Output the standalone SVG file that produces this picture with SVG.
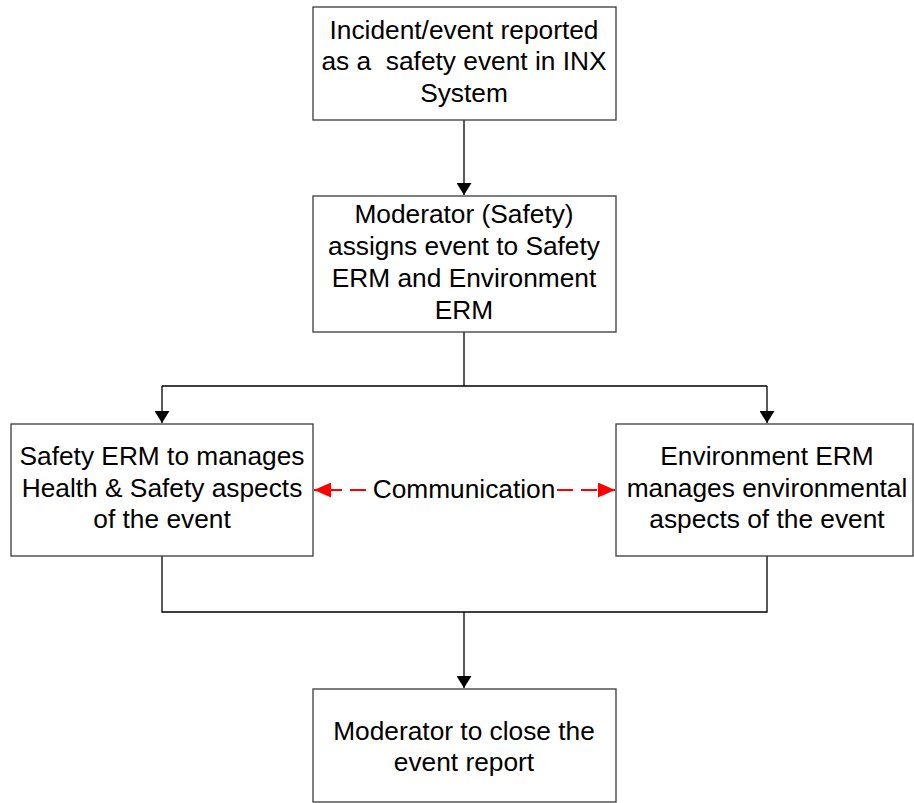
<svg xmlns="http://www.w3.org/2000/svg" width="914" height="803" viewBox="0 0 914 803">
<defs>
<marker id="ah" viewBox="0 0 12 15" refX="12" refY="7.5" markerWidth="12" markerHeight="15" markerUnits="userSpaceOnUse" orient="auto"><path d="M0,0 L12,7.5 L0,15 Z" fill="#000"/></marker>
<marker id="rh" viewBox="0 0 17 15" refX="17" refY="7.5" markerWidth="17" markerHeight="15" markerUnits="userSpaceOnUse" orient="auto"><path d="M0,0 L17,7.5 L0,15 Z" fill="#ff0000"/></marker>
</defs>
<style>
.box{fill:#fff;stroke:#3a3a3a;stroke-width:1.3}
.t{font-family:"Liberation Sans",Arial,sans-serif;font-size:26.3px;fill:#000;text-anchor:middle}
.c{fill:none;stroke:#000;stroke-width:1.3}
.r{fill:none;stroke:#ff0000;stroke-width:2;stroke-dasharray:16 8}
</style>
<rect width="914" height="803" fill="#fff"/>
<g id="connectors">
<path class="c" d="M464,120 V195" marker-end="url(#ah)"/>
<path class="c" d="M464,332 V386 M162,386 H767"/>
<path class="c" d="M162,386 V423" marker-end="url(#ah)"/>
<path class="c" d="M767,386 V423" marker-end="url(#ah)"/>
<path class="c" d="M162,556 V612 H767 V556"/>
<path class="c" d="M464,612 V688" marker-end="url(#ah)"/>
<path class="r" d="M366,490 H314" marker-end="url(#rh)"/>
<path class="r" d="M557,490 H615" marker-end="url(#rh)"/>
<text class="t" x="464" y="498">Communication</text>
</g>
<g id="n1">
<rect class="box" x="313" y="7" width="303" height="113"/>
<text class="t" x="464" y="39">Incident/event reported</text>
<text class="t" x="464" y="70" xml:space="preserve">as a  safety event in INX</text>
<text class="t" x="464" y="102">System</text>
</g>
<g id="n2">
<rect class="box" x="313" y="196" width="303" height="136"/>
<text class="t" x="464" y="223">Moderator (Safety)</text>
<text class="t" x="464" y="255">assigns event to Safety</text>
<text class="t" x="464" y="287">ERM and Environment</text>
<text class="t" x="464" y="319">ERM</text>
</g>
<g id="n3">
<rect class="box" x="11" y="424" width="302" height="132"/>
<text class="t" x="162" y="465">Safety ERM to manages</text>
<text class="t" x="162" y="497">Health &amp; Safety aspects</text>
<text class="t" x="162" y="528">of the event</text>
</g>
<g id="n4">
<rect class="box" x="616" y="424" width="297" height="132"/>
<text class="t" x="767" y="465">Environment ERM</text>
<text class="t" x="767" y="497">manages environmental</text>
<text class="t" x="767" y="528">aspects of the event</text>
</g>
<g id="n5">
<rect class="box" x="313" y="689" width="303" height="113"/>
<text class="t" x="464" y="740">Moderator to close the</text>
<text class="t" x="464" y="771">event report</text>
</g>
</svg>
